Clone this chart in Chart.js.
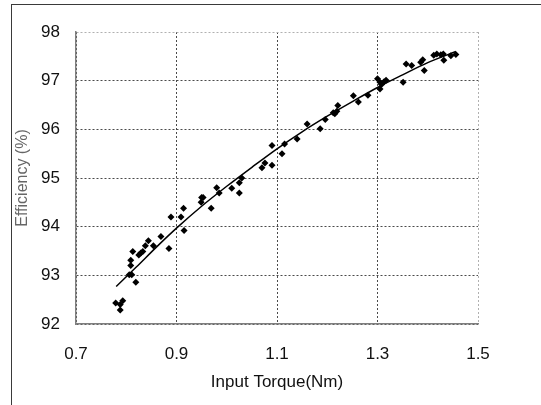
<!DOCTYPE html>
<html lang="en">
<head>
    <meta charset="UTF-8">
    <title>Efficiency vs Input Torque</title>
    <script src="https://cdn.jsdelivr.net/npm/chart.js"></script>
    <style>
        body, html {
            margin: 0;
            padding: 0;
            background: #fff;
            overflow: hidden;
        }
        #frame {
            position: absolute;
            left: 11px;
            top: 4px;
            width: 600px;
            height: 500px;
            border-left: 1px solid #3a3a3a;
            border-top: 1px solid #3a3a3a;
        }
        #chart {
            position: absolute;
            left: 0;
            top: 0;
        }
    </style>
</head>
<body>
    <div id="frame"></div>
    <canvas id="chart" width="541" height="405"></canvas>

    <script>
        const torque = [0.779, 0.788, 0.793, 0.788, 0.809, 0.809, 0.806, 0.811, 0.819, 0.813,
            0.825, 0.829, 0.833, 0.838, 0.844, 0.854, 0.869, 0.885, 0.915, 0.914,
            0.909, 0.889, 0.950, 0.953, 0.949, 0.969, 0.980, 0.985, 1.010, 1.025,
            1.025, 1.030, 1.070, 1.076, 1.090, 1.090, 1.110, 1.115, 1.140, 1.160,
            1.186, 1.196, 1.212, 1.215, 1.219, 1.221, 1.252, 1.262, 1.281, 1.300,
            1.305, 1.308, 1.313, 1.305, 1.317, 1.351, 1.357, 1.368, 1.386, 1.390,
            1.393, 1.412, 1.418, 1.426, 1.431, 1.432, 1.446, 1.456];
        const efficiency = [92.43, 92.40, 92.48, 92.29, 93.31, 93.20, 93.01, 93.01, 92.86, 93.49,
            93.42, 93.46, 93.49, 93.61, 93.71, 93.61, 93.80, 93.55, 93.92, 94.38,
            94.20, 94.20, 94.60, 94.60, 94.50, 94.38, 94.80, 94.69, 94.79, 94.90,
            94.69, 95.00, 95.21, 95.31, 95.26, 95.67, 95.50, 95.70, 95.80, 96.11,
            96.01, 96.20, 96.34, 96.32, 96.37, 96.49, 96.69, 96.56, 96.70, 97.04,
            96.97, 96.92, 96.98, 96.83, 97.01, 96.97, 97.34, 97.31, 97.38, 97.43,
            97.21, 97.52, 97.55, 97.53, 97.55, 97.42, 97.51, 97.54];

        // trend line
        const trendTorque = [0.78, 0.82, 0.86, 0.90, 0.95, 1.00, 1.05, 1.10, 1.15, 1.20, 1.25, 1.30, 1.35, 1.40, 1.456];
        const trendEff = [92.77, 93.17, 93.58, 93.97, 94.42, 94.83, 95.22, 95.60, 95.95, 96.27, 96.57, 96.86, 97.12, 97.37, 97.60];

        const xTicks = [0.7, 0.9, 1.1, 1.3, 1.5];
        const yTicks = [92, 93, 94, 95, 96, 97, 98];

        const fontFamily = '"Liberation Sans", Arial, sans-serif';
        const gridDark = '#4a4a4a';
        const gridLight = '#b0b0b0';

        const points = torque.map((t, i) => ({ x: t, y: efficiency[i] }));
        const trend = trendTorque.map((t, i) => ({ x: t, y: trendEff[i] }));

        new Chart(document.getElementById('chart'), {
            type: 'scatter',
            data: {
                datasets: [{
                    data: points,
                    pointStyle: 'rectRot',
                    pointRadius: 3.5,
                    backgroundColor: '#000',
                    borderWidth: 0
                }, {
                    type: 'line',
                    data: trend,
                    borderColor: '#000',
                    borderWidth: 1.5,
                    pointRadius: 0,
                    fill: false,
                    cubicInterpolationMode: 'monotone'
                }]
            },
            options: {
                responsive: false,
                animation: false,
                plugins: {
                    legend: { display: false },
                    tooltip: { enabled: false }
                },
                layout: {
                    padding: { top: 32, right: 63, left: 0, bottom: 0 }
                },
                scales: {
                    x: {
                        type: 'linear',
                        min: xTicks[0],
                        max: xTicks[xTicks.length - 1],
                        afterBuildTicks: s => { s.ticks = xTicks.map(v => ({ value: v })); },
                        afterFit: s => { s.height = 81; },
                        ticks: {
                            padding: 20,
                            color: '#111',
                            font: { family: fontFamily, size: 17 },
                            callback: v => v.toFixed(1)
                        },
                        grid: {
                            drawTicks: false,
                            lineWidth: 1,
                            color: c => (c.tick && c.tick.value === 1.5) ? gridLight : gridDark
                        },
                        border: { color: '#7f7f7f', width: 1.5, dash: [2, 2] },
                        title: {
                            display: true,
                            text: 'Input Torque(Nm)',
                            color: '#111',
                            font: { family: fontFamily, size: 17 },
                            padding: { top: 0, bottom: 12 }
                        }
                    },
                    y: {
                        min: yTicks[0],
                        max: yTicks[yTicks.length - 1],
                        afterBuildTicks: s => { s.ticks = yTicks.map(v => ({ value: v })); },
                        afterFit: s => { s.width = 76; },
                        ticks: {
                            padding: 16,
                            color: '#111',
                            font: { family: fontFamily, size: 17 }
                        },
                        grid: {
                            drawTicks: false,
                            lineWidth: 1,
                            color: c => (c.tick && c.tick.value === 98) ? gridLight : gridDark
                        },
                        border: { color: '#7f7f7f', width: 1.5, dash: [2, 2] },
                        title: {
                            display: true,
                            text: 'Efficiency (%)',
                            color: '#666',
                            font: { family: fontFamily, size: 16 },
                            padding: { top: 13, bottom: 0 }
                        }
                    }
                }
            }
        });
    </script>
</body>
</html>
